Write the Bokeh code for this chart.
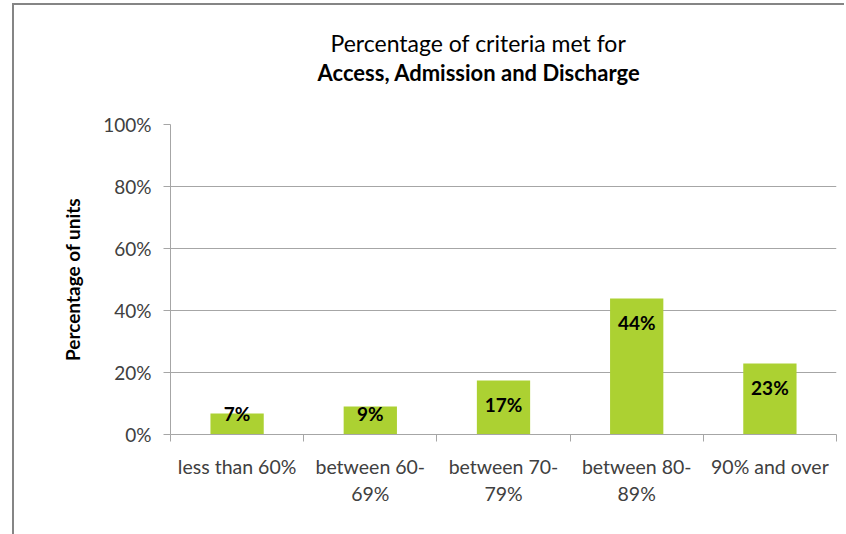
from bokeh.plotting import figure
from bokeh.models import Range1d, FixedTicker, Title, ColumnDataSource
from bokeh.core.properties import value
from bokeh.embed import file_html
from bokeh.resources import INLINE

categories = ["less than 60%", "between 60-\n69%", "between 70-\n79%", "between 80-\n89%", "90% and over"]
values = [6.8, 9.0, 17.4, 43.9, 22.9]
value_labels = ["7%", "9%", "17%", "44%", "23%"]
y_ticks = [0, 20, 40, 60, 80, 100]
y_tick_labels = ["0%", "20%", "40%", "60%", "80%", "100%"]
title_line1 = "Percentage of criteria met for"
title_line2 = "Access, Admission and Discharge"
y_title = "Percentage of units"

FONT = "Lato"
BAR = "#acd132"
GRID = "#a6a6a6"
TXT = "#404040"

n = len(categories)
xs = [i + 0.5 for i in range(n)]
# label positions: inside end, clamped near baseline for short bars
label_y = [max(v - 7.7, 6.8) for v in values]

src = ColumnDataSource(dict(x=xs, top=values, ly=label_y, lab=value_labels))

p = figure(width=832, height=531, output_backend="svg", toolbar_location=None,
           x_range=Range1d(0, n), y_range=Range1d(0, 100),
           min_border_left=156, min_border_right=10, min_border_top=119, min_border_bottom=102)
p.styles = {"margin-left": "12px", "margin-top": "3px",
            "border-left": "2px solid #858585", "border-top": "2px solid #858585"}
p.outline_line_color = None
p.background_fill_color = "white"
p.border_fill_color = "white"

p.vbar(x="x", top="top", bottom=0, width=0.4, source=src, fill_color=BAR, line_color=None)
p.text(x="x", y="ly", text="lab", source=src, text_align="center", text_baseline="middle",
       text_font=value(FONT), text_font_size="19px", text_font_style="bold", text_color="black")

# x axis: boundary ticks as minor ticks, labels at centers
p.xaxis.ticker = FixedTicker(ticks=xs, minor_ticks=list(range(n + 1)))
p.xaxis.major_label_overrides = {x: c for x, c in zip(xs, categories)}
p.xaxis.major_tick_line_color = None
p.xaxis.minor_tick_in = 0
p.xaxis.minor_tick_out = 7
p.xaxis.minor_tick_line_color = GRID
p.xaxis.axis_line_color = GRID
p.xaxis.major_label_standoff = 13
p.xaxis.major_label_text_font = FONT
p.xaxis.major_label_text_font_size = "19.5px"
p.xaxis.major_label_text_color = TXT
p.xaxis.major_label_text_line_height = 1.2

p.yaxis.ticker = FixedTicker(ticks=y_ticks)
p.yaxis.major_label_overrides = {t: l for t, l in zip(y_ticks, y_tick_labels)}
p.yaxis.minor_tick_line_color = None
p.yaxis.major_tick_in = 0
p.yaxis.major_tick_out = 7
p.yaxis.major_tick_line_color = GRID
p.yaxis.axis_line_color = GRID
p.yaxis.major_label_standoff = 12
p.yaxis.major_label_text_font = FONT
p.yaxis.major_label_text_font_size = "19px"
p.yaxis.major_label_text_color = TXT
p.yaxis.axis_label = y_title
p.yaxis.axis_label_text_font = FONT
p.yaxis.axis_label_text_font_size = "19px"
p.yaxis.axis_label_text_font_style = "bold"
p.yaxis.axis_label_text_color = "black"
p.yaxis.axis_label_standoff = 16

p.xgrid.grid_line_color = None
p.ygrid.ticker = FixedTicker(ticks=y_ticks)
p.ygrid.grid_line_color = GRID

p.title = None
# spacer between the frame and the two-line title
p.add_layout(Title(text=" ", text_font=FONT, text_font_size="10px", standoff=25), "above")
p.add_layout(Title(text=title_line2, align="left", offset=147, standoff=0,
                   text_font=FONT, text_font_size="22px", text_font_style="bold",
                   text_color="black"), "above")
p.add_layout(Title(text=title_line1, align="left", offset=160, standoff=0,
                   text_font=FONT, text_font_size="23px", text_font_style="normal",
                   text_color="black"), "above")

open("out.html", "w").write(file_html(p, INLINE))
